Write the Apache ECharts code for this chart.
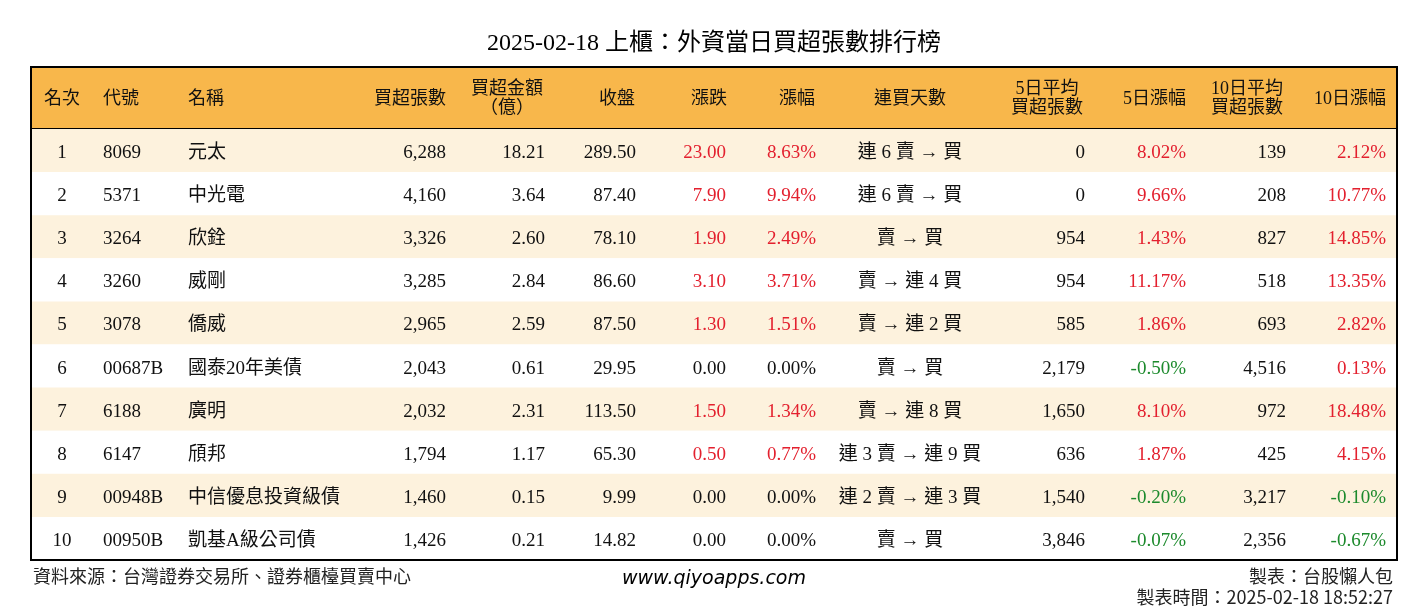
<!DOCTYPE html>
<html>
<head>
<meta charset="utf-8">
<script src="https://cdn.jsdelivr.net/npm/echarts@6/dist/echarts.min.js"></script>
<style>
html, body { margin: 0; padding: 0; background: #fff; }
#chart { width: 1428px; height: 612px; }
</style>
</head>
<body>
<div id="chart"></div>
<script>
// 表頭
const headers = ['名次', '代號', '名稱', '買超張數', '買超金額\n（億）', '收盤', '漲跌', '漲幅', '連買天數', '5日平均\n買超張數', '5日漲幅', '10日平均\n買超張數', '10日漲幅']

// 資料
const ranks = ['1', '2', '3', '4', '5', '6', '7', '8', '9', '10']
const codes = ['8069', '5371', '3264', '3260', '3078', '00687B', '6188', '6147', '00948B', '00950B']
const names = ['元太', '中光電', '欣銓', '威剛', '僑威', '國泰20年美債', '廣明', '頎邦', '中信優息投資級債', '凱基A級公司債']
const buyLots = [6288, 4160, 3326, 3285, 2965, 2043, 2032, 1794, 1460, 1426]
const buyAmount = [18.21, 3.64, 2.60, 2.84, 2.59, 0.61, 2.31, 1.17, 0.15, 0.21]
const closePrice = [289.50, 87.40, 78.10, 86.60, 87.50, 29.95, 113.50, 65.30, 9.99, 14.82]
const change = [23.00, 7.90, 1.90, 3.10, 1.30, 0.00, 1.50, 0.50, 0.00, 0.00]
const changePct = [8.63, 9.94, 2.49, 3.71, 1.51, 0.00, 1.34, 0.77, 0.00, 0.00]
const streak = ['連 6 賣 → 買', '連 6 賣 → 買', '賣 → 買', '賣 → 連 4 買', '賣 → 連 2 買', '賣 → 買', '賣 → 連 8 買', '連 3 賣 → 連 9 買', '連 2 賣 → 連 3 買', '賣 → 買']
const avg5 = [0, 0, 954, 954, 585, 2179, 1650, 636, 1540, 3846]
const pct5 = [8.02, 9.66, 1.43, 11.17, 1.86, -0.50, 8.10, 1.87, -0.20, -0.07]
const avg10 = [139, 208, 827, 518, 693, 4516, 972, 425, 3217, 2356]
const pct10 = [2.12, 10.77, 14.85, 13.35, 2.82, 0.13, 18.48, 4.15, -0.10, -0.67]

// 版面 (表格內 x 位置)
const TABLE_W = 1366
const cols = [
  { x: 31, align: 'center', hx: 31, halign: 'center' },
  { x: 72, align: 'left', hx: 72, halign: 'left' },
  { x: 157, align: 'left', hx: 157, halign: 'left' },
  { x: 415, align: 'right', hx: 415, halign: 'right' },
  { x: 514, align: 'right', hx: 476, halign: 'center' },
  { x: 605, align: 'right', hx: 604, halign: 'right' },
  { x: 695, align: 'right', hx: 696, halign: 'right' },
  { x: 785, align: 'right', hx: 784, halign: 'right' },
  { x: 879, align: 'center', hx: 879, halign: 'center' },
  { x: 1054, align: 'right', hx: 1016, halign: 'center' },
  { x: 1155, align: 'right', hx: 1155, halign: 'right' },
  { x: 1255, align: 'right', hx: 1216, halign: 'center' },
  { x: 1355, align: 'right', hx: 1355, halign: 'right' }
]

const FONT = "'Liberation Serif', 'Noto Sans CJK TC', serif"
const SANS = "'Noto Sans CJK TC', sans-serif"
const HEAD_BG = '#F8B74B'
const CREAM = '#FDF2DD'
const RED = '#E3202E'
const GREEN = '#1C8A2C'
const BLACK = '#111'

const fmtInt = v => v.toLocaleString('en-US')
const fmt2 = v => v.toFixed(2)
const fmtPct = v => v.toFixed(2) + '%'
const signColor = v => (v > 0 ? RED : v < 0 ? GREEN : BLACK)

function rowCells (i) {
  return [
    { text: ranks[i], color: BLACK },
    { text: codes[i], color: BLACK },
    { text: names[i], color: BLACK },
    { text: fmtInt(buyLots[i]), color: BLACK },
    { text: fmt2(buyAmount[i]), color: BLACK },
    { text: fmt2(closePrice[i]), color: BLACK },
    { text: fmt2(change[i]), color: signColor(change[i]) },
    { text: fmtPct(changePct[i]), color: signColor(changePct[i]) },
    { text: streak[i], color: BLACK },
    { text: fmtInt(avg5[i]), color: BLACK },
    { text: fmtPct(pct5[i]), color: signColor(pct5[i]) },
    { text: fmtInt(avg10[i]), color: BLACK },
    { text: fmtPct(pct10[i]), color: signColor(pct10[i]) }
  ]
}

function renderHeader (params, api) {
  const l = api.coord([0, 0])
  const r = api.coord([TABLE_W, 0])
  const h = api.size([0, 1])[1]
  const cy = l[1]
  const children = [
    { type: 'rect', shape: { x: l[0], y: cy - h / 2, width: r[0] - l[0], height: h }, style: { fill: HEAD_BG } },
    { type: 'line', shape: { x1: l[0], y1: cy + h / 2, x2: r[0], y2: cy + h / 2 }, style: { stroke: '#000', lineWidth: 2 } }
  ]
  headers.forEach((t, k) => {
    children.push({
      type: 'text',
      style: {
        text: t,
        x: api.coord([cols[k].hx, 0])[0],
        y: cy + 1,
        align: cols[k].halign,
        verticalAlign: 'middle',
        fill: BLACK,
        fontSize: 18,
        lineHeight: 19,
        fontFamily: FONT
      }
    })
  })
  return { type: 'group', children }
}

function renderRow (params, api) {
  const i = api.value(1)
  const l = api.coord([0, i])
  const r = api.coord([TABLE_W, i])
  const h = api.size([0, 1])[1]
  const cy = l[1]
  const children = [
    { type: 'rect', shape: { x: l[0], y: cy - h / 2, width: r[0] - l[0], height: h }, style: { fill: i % 2 === 0 ? CREAM : '#fff' } }
  ]
  rowCells(i).forEach((c, k) => {
    children.push({
      type: 'text',
      style: {
        text: c.text,
        x: api.coord([cols[k].x, i])[0],
        y: cy + 2.5,
        align: cols[k].align,
        verticalAlign: 'middle',
        fill: c.color,
        fontSize: 19,
        fontFamily: FONT
      }
    })
  })
  return { type: 'group', children }
}

const myChart = echarts.init(document.getElementById('chart'))
const option = {
  animation: false,
  backgroundColor: '#fff',
  title: [
    {
      text: '2025-02-18 上櫃：外資當日買超張數排行榜',
      left: 'center',
      top: 27,
      textStyle: { fontSize: 24, fontWeight: 'normal', color: '#000', fontFamily: FONT }
    },
    {
      text: '資料來源：台灣證券交易所、證券櫃檯買賣中心',
      left: 33,
      top: 567,
      padding: 0,
      textStyle: { fontSize: 18, fontWeight: 'normal', color: '#222', fontFamily: SANS }
    },
    {
      text: 'www.qiyoapps.com',
      left: 'center',
      top: 570,
      padding: 0,
      textStyle: { fontSize: 19, fontWeight: 'normal', fontStyle: 'italic', color: '#000', fontFamily: "'DejaVu Sans', sans-serif" }
    },
    {
      text: '製表：台股懶人包',
      right: 35,
      top: 567,
      padding: 0,
      textStyle: { fontSize: 18, fontWeight: 'normal', color: '#222', fontFamily: SANS }
    },
    {
      text: '製表時間：2025-02-18 18:52:27',
      right: 35,
      top: 588,
      padding: 0,
      textStyle: { fontSize: 18, fontWeight: 'normal', color: '#222', fontFamily: SANS }
    }
  ],
  grid: [
    { left: 31, right: 31, top: 67, height: 62 },
    { left: 31, right: 31, top: 129, bottom: 52 },
    { left: 31, right: 31, top: 67, bottom: 52, show: true, z: 10, backgroundColor: 'transparent', borderColor: '#000', borderWidth: 2 }
  ],
  xAxis: [
    { gridIndex: 0, type: 'value', min: 0, max: TABLE_W, show: false },
    { gridIndex: 1, type: 'value', min: 0, max: TABLE_W, show: false },
    { gridIndex: 2, type: 'value', min: 0, max: TABLE_W, show: false }
  ],
  yAxis: [
    { gridIndex: 0, type: 'category', data: ['header'], show: false },
    { gridIndex: 1, type: 'category', data: ranks, inverse: true, show: false },
    { gridIndex: 2, type: 'value', min: 0, max: 1, show: false }
  ],
  series: [
    {
      type: 'custom',
      xAxisIndex: 0,
      yAxisIndex: 0,
      clip: false,
      renderItem: renderHeader,
      data: [[0, 0]]
    },
    {
      type: 'custom',
      xAxisIndex: 1,
      yAxisIndex: 1,
      clip: false,
      renderItem: renderRow,
      data: ranks.map((r, i) => [0, i])
    }
  ]
}
myChart.setOption(option)
window.addEventListener('resize', () => myChart.resize())
</script>
</body>
</html>
